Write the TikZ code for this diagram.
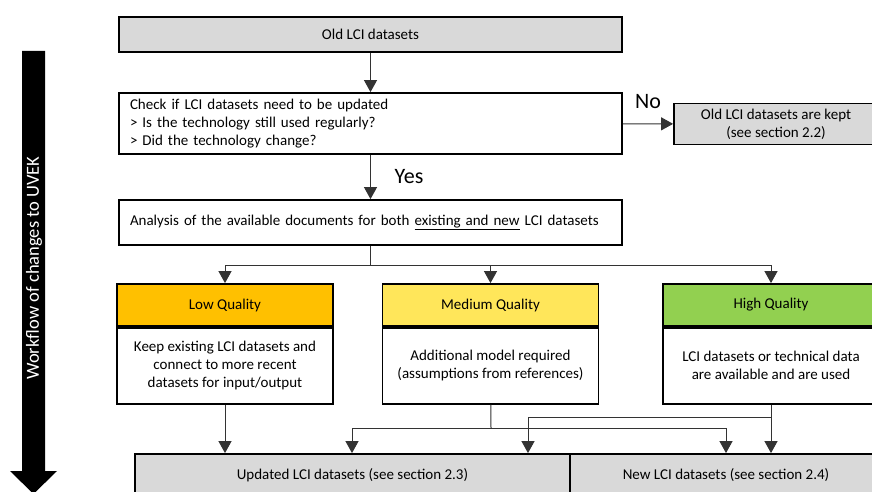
\documentclass[tikz,border=0pt]{standalone}
\usepackage{fontspec}
\setmainfont{Carlito}
\usetikzlibrary{arrows.meta,positioning,calc}
\definecolor{boxgray}{HTML}{D9D9D9}
\definecolor{lowq}{HTML}{FFC000}
\definecolor{medq}{HTML}{FFE65A}
\definecolor{highq}{HTML}{92D050}

\begin{document}
\begin{tikzpicture}[x=1pt, y=-1pt,
    box/.style={rectangle, draw, line width=1.8pt, inner sep=0pt, font=\fontsize{15}{18}\selectfont},
    head/.style={box, minimum width=216pt, minimum height=42pt},
    body/.style={box, fill=white, minimum width=216pt, minimum height=76pt, align=center},
    flow/.style={-{Triangle[length=12pt,width=13pt]}, line width=1pt, draw=black!80},
    big/.style={font=\fontsize{22}{24}\selectfont}
]
    \useasboundingbox (0,0) rectangle (872,492);
    \clip (0,0) rectangle (872,492);

    % workflow arrow on the left
    \fill (22,51) -- (45,51) -- (45,471) -- (57,471) -- (33.5,494) -- (10,471) -- (22,471) -- cycle;
    \node[rotate=90, text=white, font=\fontsize{18.5}{20}\selectfont] (workflow) at (34,268) {Workflow of changes to UVEK};

    % main steps
    \node[box, fill=boxgray, minimum width=503pt, minimum height=35pt] (old) at (370.5,34.5) {Old LCI datasets};
    \node[box, minimum width=503pt, minimum height=61pt, text width=481pt, align=left] (check) at (370.5,123.5)
        {Check if LCI datasets need to be updated\\> Is the technology still used regularly?\\> Did the technology change?};
    \node[box, fill=boxgray, minimum width=204pt, minimum height=41pt, align=center] (kept) at (776,124)
        {Old LCI datasets are kept\\(see section 2.2)};
    \node[box, minimum width=503pt, minimum height=45pt, text width=481pt, align=left] (analysis) at (370.5,222.5)
        {Analysis of the available documents for both \underline{existing and new} LCI datasets};

    % quality levels
    \node[head, fill=lowq] (lowhead) at (225,305) {Low Quality};
    \node[body, below=0pt of lowhead] (lowbody) {Keep existing LCI datasets and\\connect to more recent\\datasets for input/output};
    \node[head, fill=medq] (medhead) at (490.5,305) {Medium Quality};
    \node[body, below=0pt of medhead] (medbody) {Additional model required\\(assumptions from references)};
    \node[head, fill=highq] (highhead) at (771,305) {High Quality};
    \node[body, below=0pt of highhead] (highbody) {LCI datasets or technical data\\are available and are used};

    % results
    \node[box, fill=boxgray, minimum width=435pt, minimum height=42pt] (updated) at (352.5,475) {Updated LCI datasets (see section 2.3)};
    \node[box, fill=boxgray, minimum width=312pt, minimum height=42pt] (new) at (726,475) {New LCI datasets (see section 2.4)};

    % junctions
    \coordinate (split) at ($(analysis.south)+(0,20)$);
    \coordinate (medsplit) at (491,428);
    \coordinate (highsplit) at (771,417);
    \coordinate (medtoupd) at (352,428);
    \coordinate (medtonew) at (726,428);
    \coordinate (hightoupd) at (528,417);

    % connectors
    \draw[flow] (old) -- (check);
    \draw[flow] (check) -- (analysis);
    \draw[flow] (check) -- (kept);
    \node[big] (yes) at (409,177) {Yes};
    \node[big] (no) at (648,102) {No};

    \draw[line width=1pt, draw=black!80] (analysis) -- (split);
    \draw[flow] (split) -| (lowhead);
    \draw[flow] (split) -| (medhead);
    \draw[flow] (split) -| (highhead);

    \draw[flow] (lowbody) -- (lowbody |- updated.north);
    \draw[line width=1pt, draw=black!80] (medbody) -- (medsplit);
    \draw[flow] (medsplit) -| (medtoupd |- updated.north);
    \draw[flow] (medsplit) -| (medtonew |- new.north);
    \draw[flow] (highbody) -- (highbody |- new.north);
    \draw[flow] (highsplit) -| (hightoupd |- updated.north);
\end{tikzpicture}
\end{document}
